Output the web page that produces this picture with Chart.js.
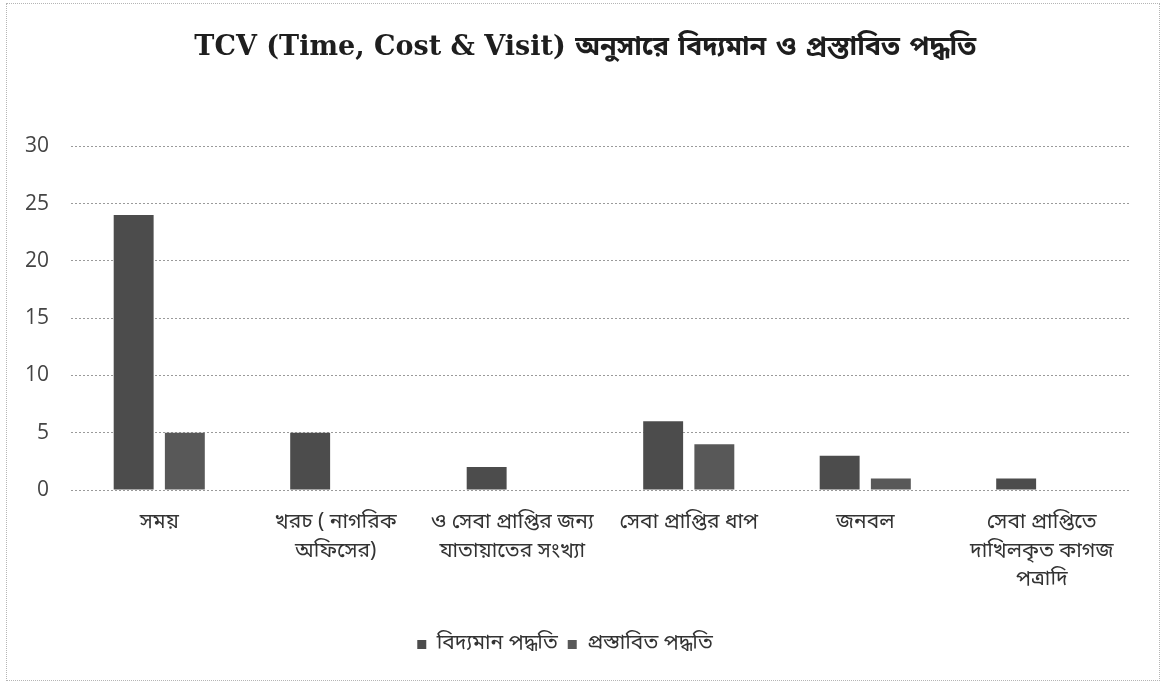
<!DOCTYPE html>
<html>
<head>
<meta charset="utf-8">
<script src="https://cdn.jsdelivr.net/npm/chart.js@4.4.1/dist/chart.umd.min.js"></script>
<style>
  html, body { margin: 0; padding: 0; background: #ffffff; }
  #wrap { position: relative; width: 1164px; height: 684px; }
  #frame { position: absolute; left: 6px; top: 3px; width: 1152px; height: 676px; border: 1px dotted #b5b5b5; pointer-events: none; }
</style>
</head>
<body>
<div id="wrap">
  <canvas id="c" width="1164" height="684"></canvas>
  <div id="frame"></div>
</div>
<script>
const chartTitle = "TCV (Time, Cost & Visit) অনুসারে বিদ্যমান ও প্রস্তাবিত পদ্ধতি";
const categories = [
  ["সময়"],
  ["খরচ ( নাগরিক", "অফিসের)"],
  ["ও সেবা প্রাপ্তির জন্য", "যাতায়াতের সংখ্যা"],
  ["সেবা প্রাপ্তির ধাপ"],
  ["জনবল"],
  ["সেবা প্রাপ্তিতে", "দাখিলকৃত কাগজ", "পত্রাদি"]
];
const seriesNames = ["বিদ্যমান পদ্ধতি", "প্রস্তাবিত পদ্ধতি"];
const existingValues = [24, 5, 2, 6, 3, 1];
const proposedValues = [5, 0, 0, 4, 1, 0];
const yTicks = [0, 5, 10, 15, 20, 25, 30];

const bnFont = "'Noto Sans Bengali', 'Noto Serif Bengali', 'Lohit Bengali', 'Mukti', 'FreeSans', 'Noto Sans', sans-serif";

new Chart(document.getElementById('c'), {
  type: 'bar',
  data: {
    labels: categories,
    datasets: [
      { label: seriesNames[0], data: existingValues, backgroundColor: '#4c4c4c', borderWidth: 0 },
      { label: seriesNames[1], data: proposedValues, backgroundColor: '#585858', borderWidth: 0 }
    ]
  },
  options: {
    responsive: false,
    animation: false,
    devicePixelRatio: 1,
    layout: { padding: { left: 0, right: 34, top: 20, bottom: 19 } },
    datasets: { bar: { categoryPercentage: 0.58, barPercentage: 0.78 } },
    plugins: {
      title: {
        display: true,
        text: "\u2002\u2002\u2002" + chartTitle,
        color: '#1e1e1e',
        font: { family: "'DejaVu Serif', 'Liberation Serif', " + bnFont, size: 27, weight: 'bold', lineHeight: 1.2 },
        padding: { top: 12, bottom: 82 }
      },
      legend: {
        position: 'bottom',
        labels: {
          color: '#333333',
          font: { family: bnFont, size: 21 },
          boxWidth: 9,
          boxHeight: 9,
          padding: 10
        }
      },
      tooltip: { enabled: false }
    },
    scales: {
      x: {
        grid: { display: false, drawTicks: false },
        border: { display: false },
        ticks: {
          color: '#333333',
          font: { family: bnFont, size: 21, lineHeight: 1.36 },
          padding: 20,
          maxRotation: 0,
          autoSkip: false
        },
        afterFit: (s) => { s.height = 134; }
      },
      y: {
        min: 0,
        max: 30,
        afterBuildTicks: (s) => { s.ticks = yTicks.map(v => ({ value: v })); },
        grid: { color: '#9a9a9a', lineWidth: 1, drawTicks: false },
        border: { display: false, dash: [2, 2] },
        ticks: {
          color: '#444444',
          font: { family: "'Open Sans', 'Lato', sans-serif", size: 21 },
          padding: 22
        },
        afterFit: (s) => { s.width = 71; }
      }
    }
  }
});
</script>
</body>
</html>
